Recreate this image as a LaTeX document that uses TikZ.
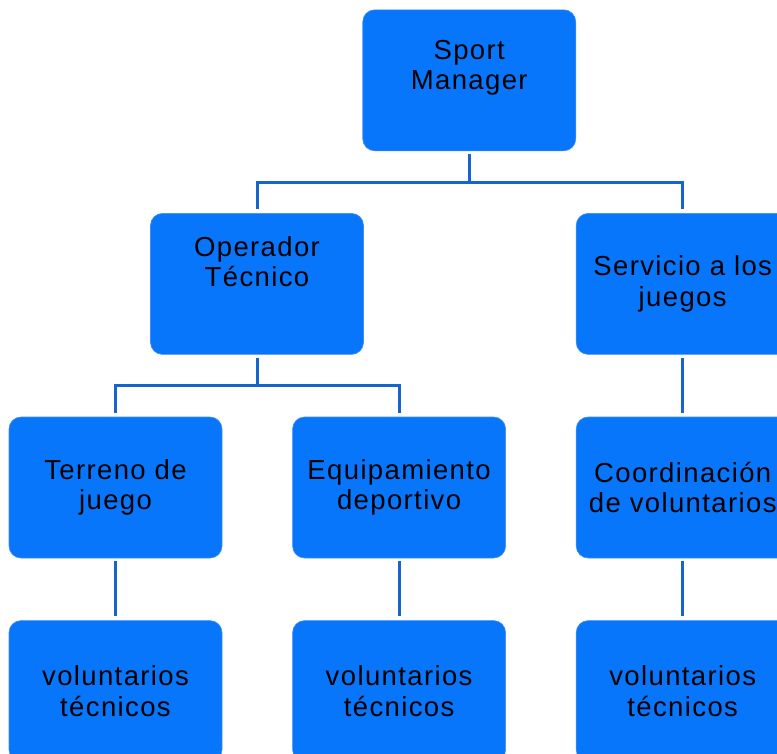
\documentclass[tikz,border=0pt]{standalone}
\usepackage{fontspec}
\usetikzlibrary{positioning}
\newfontfamily\boxfont{Liberation Sans}[LetterSpace=5]
\definecolor{boxblue}{RGB}{8,118,250}
\definecolor{edgeblue}{RGB}{60,140,250}
\definecolor{lineblue}{RGB}{22,100,205}

\begin{document}
\begin{tikzpicture}[x=1pt,y=1pt,node distance=62pt and 70pt,box/.style={draw=edgeblue,fill=boxblue,line width=0.6pt,rounded corners=12pt,minimum width=213pt,minimum height=141pt,inner sep=0pt,align=center,font=\boxfont\fontsize{27.5}{30.5}\selectfont},conn/.style={draw=lineblue,line width=3pt,shorten <=3pt,shorten >=4pt}]
\useasboundingbox (0,0) rectangle (777,-753);
\node[box] (tr) at (115.5,-487.5) {Terreno de\\juego};
\node[box,right=of tr](eq){Equipamiento\\deportivo};
\node[box,right=of eq](co){Coordinación\\de voluntarios};
\node[box,below=of tr](v1){voluntarios\\técnicos};
\node[box,below=of eq](v2){voluntarios\\técnicos};
\node[box,below=of co](v3){voluntarios\\técnicos};
\node[box,above=of tr,xshift=141.5pt](op){Operador\\Técnico\\[14pt]\mbox{}};
\node[box,above=of co](sj){Servicio a los\\juegos};
\node[box,above=of op,xshift=212.25pt](sm){Sport\\Manager\\\mbox{}};
\draw[conn](sm.south)--++(0,-31)-|(op.north);
\draw[conn](sm.south)--++(0,-31)-|(sj.north);
\draw[conn](op.south)--++(0,-31)-|(tr.north);
\draw[conn](op.south)--++(0,-31)-|(eq.north);
\draw[conn](sj)--(co);\draw[conn](tr)--(v1);
\draw[conn](eq)--(v2);\draw[conn](co)--(v3);
\end{tikzpicture}
\end{document}
